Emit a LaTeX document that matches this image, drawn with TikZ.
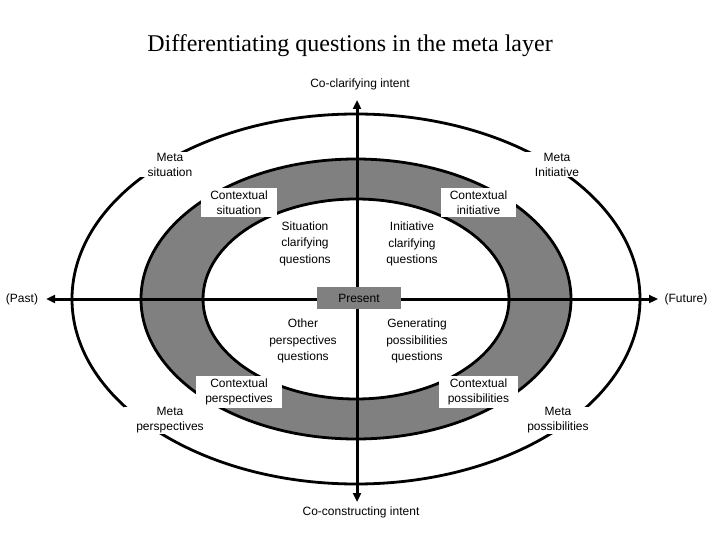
\documentclass[tikz,border=0pt]{standalone}
\usepackage{fontspec}
\setmainfont{Liberation Serif}
\setsansfont{Liberation Sans}
\usetikzlibrary{arrows.meta}
\definecolor{ringgray}{gray}{0.5}
\tikzset{ring/.style = {line width = 2.8pt},
    axis/.style = {line width = 3pt, {Triangle[length = 9pt, width = 8pt]}-{Triangle[length = 9pt, width = 8pt]}},
    lbl/.style = {font = \sffamily\fontsize{12}{15}\selectfont, align = center, inner sep = 1pt},
    quest/.style = {lbl, font = \sffamily\fontsize{12}{16.5}\selectfont},
    ctxbox/.style = {lbl, fill = white, inner xsep = 9pt, inner ysep = 3pt},
    metabox/.style = {lbl, fill = white, inner xsep = 12pt, inner ysep = 1pt},
    nowbox/.style = {lbl, fill = ringgray, minimum width = 84pt, minimum height = 22pt}}

\begin{document}
\begin{tikzpicture}[x = 1pt, y = -1pt]
    \useasboundingbox (0, 0) rectangle (720, 540);

    \node (title) at (350, 46) {\fontsize{24}{28}\selectfont Differentiating questions in the meta layer};

    \coordinate (c) at (356, 299);
    \fill [ringgray, even odd rule] (c) ellipse [x radius = 215pt, y radius = 140pt]
        (c) ellipse [x radius = 153pt, y radius = 100pt];
    \draw [ring] (c) ellipse [x radius = 284pt, y radius = 185pt];
    \draw [ring] (c) ellipse [x radius = 215pt, y radius = 140pt];
    \draw [ring] (c) ellipse [x radius = 153pt, y radius = 100pt];

    \coordinate (pasttip) at (46, 299);
    \coordinate (futuretip) at (658, 299);
    \coordinate (uptip) at (357, 100);
    \coordinate (downtip) at (357, 502);
    \draw [axis] (pasttip) -- (futuretip);
    \draw [axis] (uptip) -- (downtip);

    \node [lbl] (past) at (22, 299) {(Past)};
    \node [lbl] (future) at (686, 299) {(Future)};
    \node [lbl] (clarify) at (360, 84) {Co-clarifying intent};
    \node [lbl] (construct) at (361, 512) {Co-constructing intent};

    \node [nowbox] (present) at (359, 298) {Present};

    \node [metabox] (metasit) at (170, 164.5) {Meta\\situation};
    \node [metabox] (metaini) at (557, 164.5) {Meta\\Initiative};
    \node [metabox] (metaper) at (170, 420.5) {Meta\\perspectives};
    \node [metabox] (metapos) at (558, 420.5) {Meta\\possibilities};

    \node [ctxbox] (ctxsit) at (239, 202.5) {Contextual\\situation};
    \node [ctxbox] (ctxini) at (478.5, 202.5) {Contextual\\initiative};
    \node [ctxbox] (ctxper) at (239, 392) {Contextual\\perspectives};
    \node [ctxbox] (ctxpos) at (478.5, 392) {Contextual\\possibilities};

    \node [quest] (qsit) at (305, 243.5) {Situation\\clarifying\\questions};
    \node [quest] (qini) at (412, 244) {Initiative\\clarifying\\questions};
    \node [quest] (qper) at (303, 341) {Other\\perspectives\\questions};
    \node [quest] (qpos) at (417, 341) {Generating\\possibilities\\questions};
\end{tikzpicture}
\end{document}
